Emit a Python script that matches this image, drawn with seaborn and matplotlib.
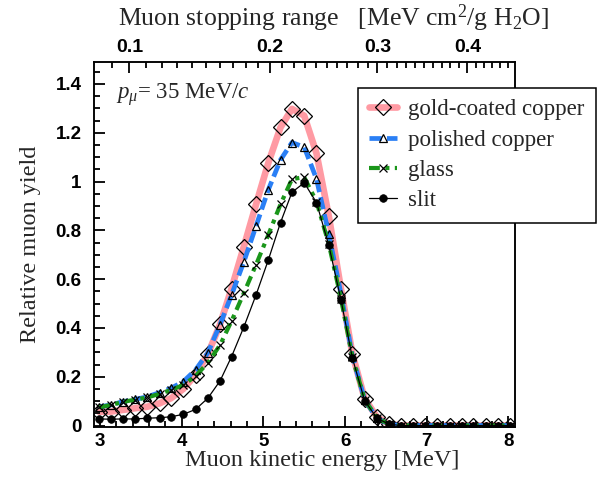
import numpy as np
import pandas as pd
import matplotlib
matplotlib.use("Agg")
import matplotlib.pyplot as plt
from matplotlib.ticker import MultipleLocator, FixedLocator
import seaborn as sns

# muon kinetic energy [MeV] of each measured point
energy_mev = [2.99, 3.13, 3.28, 3.43, 3.58, 3.73, 3.87, 4.02, 4.17, 4.32,
              4.47, 4.61, 4.76, 4.91, 5.06, 5.21, 5.35, 5.50, 5.65, 5.80,
              5.95, 6.09, 6.24, 6.39, 6.54, 6.69, 6.83, 6.98, 7.13, 7.28,
              7.43, 7.57, 7.72, 7.87, 8.02]

gold_coated = [0.057, 0.057, 0.064, 0.071, 0.077, 0.091, 0.112, 0.150, 0.208, 0.292,
               0.415, 0.561, 0.732, 0.906, 1.076, 1.222, 1.298, 1.270, 1.116, 0.860,
               0.560, 0.293, 0.110, 0.035, 0.005, 0.0, 0.0, 0.0, 0.0, 0.0,
               0.0, 0.0, 0.0, 0.0, 0.0]

polished_copper = [0.077, 0.084, 0.098, 0.107, 0.118, 0.135, 0.153, 0.180, 0.228, 0.298,
                   0.414, 0.535, 0.670, 0.817, 0.966, 1.089, 1.160, 1.141, 1.011, 0.786,
                   0.540, 0.285, 0.105, 0.030, 0.005, 0.0, 0.0, 0.0, 0.0, 0.0,
                   0.0, 0.0, 0.0, 0.0, 0.0]

glass = [0.075, 0.084, 0.097, 0.106, 0.115, 0.130, 0.146, 0.166, 0.203, 0.257,
         0.330, 0.428, 0.542, 0.659, 0.781, 0.907, 1.010, 1.018, 0.918, 0.745,
         0.520, 0.280, 0.105, 0.032, 0.005, 0.0, 0.0, 0.0, 0.0, 0.0,
         0.0, 0.0, 0.0, 0.0, 0.0]

slit = [0.027, 0.026, 0.027, 0.027, 0.030, 0.032, 0.036, 0.046, 0.066, 0.112,
        0.183, 0.282, 0.403, 0.535, 0.678, 0.832, 0.956, 0.995, 0.914, 0.740,
        0.515, 0.276, 0.102, 0.030, 0.005, 0.0, 0.0, 0.0, 0.0, 0.0,
        0.0, 0.0, 0.0, 0.0, 0.0]

range_ticks = [0.1, 0.2, 0.3, 0.4]
range_labels = ["0.1", "0.2", "0.3", "0.4"]


def range_to_energy(r):
    # rough range-energy relation (inverse of
    # R = 0.006 E^2 + 0.00734 E + 0.0076)
    r = np.asarray(r, dtype=float)
    disc = np.maximum(0.00734 ** 2 + 4 * 0.006 * (r - 0.0076), 0.0)
    return (-0.00734 + np.sqrt(disc)) / (2 * 0.006)


sns.set_style("ticks")
plt.rcParams["font.family"] = ["Liberation Serif", "DejaVu Serif"]
plt.rcParams["mathtext.fontset"] = "custom"
plt.rcParams["mathtext.rm"] = "Liberation Serif"
plt.rcParams["mathtext.it"] = "Liberation Serif:italic"
plt.rcParams["axes.linewidth"] = 1.1
plt.rcParams["axes.edgecolor"] = "black"
plt.rcParams["axes.axisbelow"] = False
plt.rcParams["xtick.direction"] = "in"
plt.rcParams["ytick.direction"] = "in"
plt.rcParams["xtick.color"] = "black"
plt.rcParams["ytick.color"] = "black"

df = pd.DataFrame({"energy": energy_mev, "gold": gold_coated,
                   "polished": polished_copper, "glass": glass, "slit": slit})

fig = plt.figure(figsize=(6.05, 4.79), dpi=100)
ax = fig.add_axes([94 / 605, 1 - 427 / 479, (515 - 94) / 605, (427 - 62) / 479])
ax.set_axisbelow(False)

sns.lineplot(data=df, x="energy", y="gold", ax=ax, color="#ff9aa3", lw=4.8,
             marker="D", markersize=8, markerfacecolor="none",
             markeredgecolor="black", markeredgewidth=0.9,
             label="gold-coated copper")
sns.lineplot(data=df, x="energy", y="polished", ax=ax, color="#2a7ff5", lw=3.4,
             dashes=(2.6, 1.1), marker="^", markersize=6, markerfacecolor="none",
             markeredgecolor="black", markeredgewidth=0.9,
             label="polished copper")
sns.lineplot(data=df, x="energy", y="glass", ax=ax, color="#1a961a", lw=3.0,
             dashes=(2.6, 1.3, 1.0, 1.3), marker="x", markersize=5.5,
             markeredgecolor="black", markeredgewidth=0.9,
             label="glass")
sns.lineplot(data=df, x="energy", y="slit", ax=ax, color="black", lw=0.9,
             marker="o", markersize=5.5, markerfacecolor="black",
             markeredgecolor="black", markeredgewidth=0.5,
             label="slit")

xlim = (2.927, 8.08)
ax.set_xlim(*xlim)
ax.set_ylim(-0.006, 1.49)
ax.xaxis.set_major_locator(MultipleLocator(1))
ax.xaxis.set_minor_locator(MultipleLocator(0.2))
ax.yaxis.set_minor_locator(MultipleLocator(0.05))
ax.set_yticks([0, 0.2, 0.4, 0.6, 0.8, 1.0, 1.2, 1.4])
ax.set_yticklabels(["0", "0.2", "0.4", "0.6", "0.8", "1", "1.2", "1.4"])
ax.tick_params(axis="x", which="both", bottom=True, top=False, pad=4)
ax.tick_params(axis="y", which="both", left=True, right=False, pad=9)
ax.tick_params(which="major", length=8, width=1.3, color="black")
ax.tick_params(which="minor", length=4, width=1.3, color="black")
for lab in ax.get_xticklabels() + ax.get_yticklabels():
    lab.set_fontfamily("Liberation Sans")
    lab.set_fontweight("bold")
    lab.set_fontsize(13.5)

ax.set_xlabel("Muon kinetic energy [MeV]", fontsize=17.5)
ax.xaxis.set_label_coords((322 - 94) / 421, -0.062)
ax.set_ylabel("Relative muon yield", fontsize=17.5, labelpad=10)

# top axis: stopping range, placed on the energy scale
top = ax.twiny()
top.set_axisbelow(False)
top.set_xlim(*xlim)
top.xaxis.set_major_locator(FixedLocator(range_to_energy(range_ticks)))
top.set_xticklabels(range_labels)
minor_r = np.round(np.arange(0.08, 0.46, 0.01), 2)
top.xaxis.set_minor_locator(FixedLocator(range_to_energy(minor_r)))
top.xaxis.set_tick_params(which="both", top=True, bottom=False,
                          labeltop=True, labelbottom=False, pad=4)
top.xaxis.set_tick_params(which="major", length=8, width=1.3, color="black")
top.xaxis.set_tick_params(which="minor", length=4, width=1.3, color="black")
top.yaxis.set_visible(False)
for lab in top.get_xticklabels():
    lab.set_fontfamily("Liberation Sans")
    lab.set_fontweight("bold")
    lab.set_fontsize(14)

fig.text(333 / 605, 1 - 18 / 479, "Muon stopping range   [MeV cm$^{2}$/g H$_{2}$O]",
         fontsize=18.5, ha="center", va="center")

ax.text(3.2, 1.34, r"$p_{\mu}$= 35 MeV/$c$", fontsize=16.5, va="baseline")

ax.get_legend().remove()
handles, labels = ax.get_legend_handles_labels()
leg = fig.legend(handles, labels, loc="upper left",
                 bbox_to_anchor=(358 / 605, 1 - 88 / 479), fontsize=16.5,
                 frameon=True, fancybox=False, edgecolor="black",
                 handlelength=1.2, handletextpad=0.5, borderpad=0.5,
                 borderaxespad=0, labelspacing=0.4)
leg.get_frame().set_linewidth(1.1)
leg.get_frame().set_alpha(1.0)
leg.set_zorder(5)

fig.savefig("out.png", dpi=100)
